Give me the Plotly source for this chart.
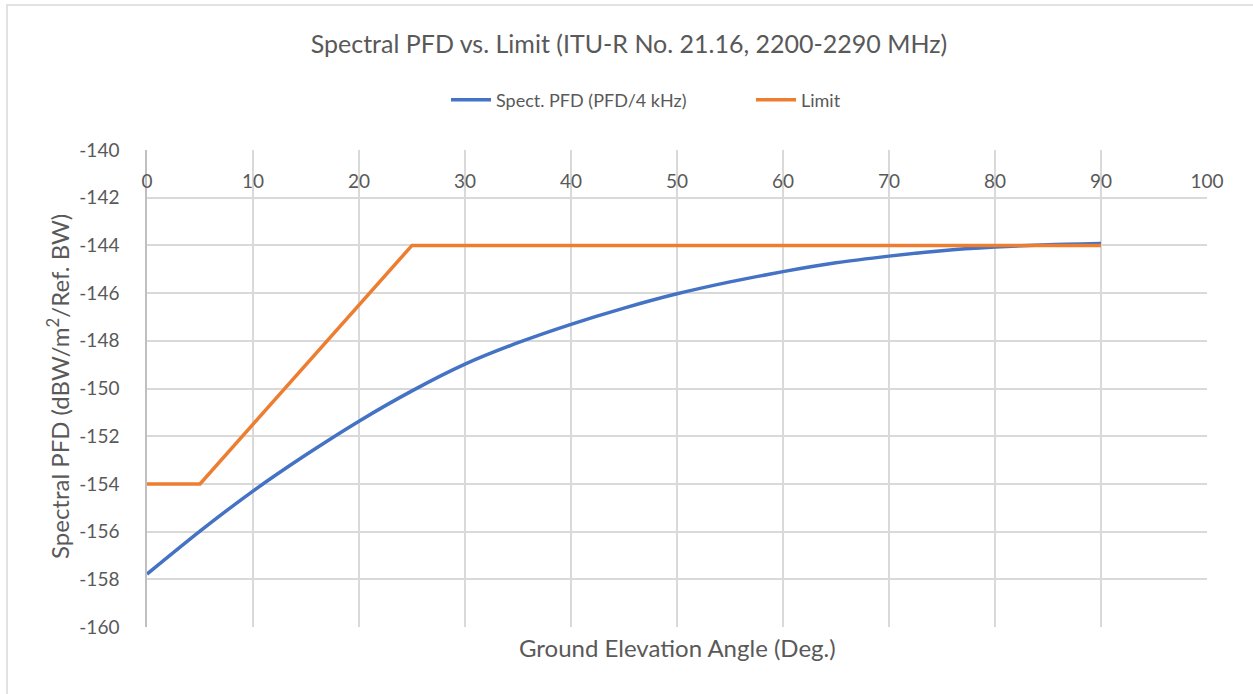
import plotly.graph_objects as go

# Data
angles = [0, 5, 10, 15, 20, 25, 30, 35, 40, 45, 50, 55, 60, 65, 70, 75, 80, 85, 90]
spect_pfd = [-157.78, -155.98, -154.3, -152.78, -151.37, -150.1, -148.98, -148.08,
             -147.31, -146.63, -146.03, -145.53, -145.1, -144.73, -144.45, -144.22,
             -144.07, -143.97, -143.92]
limit_angles = [0, 5, 25, 90]
limit_vals = [-154, -154, -144, -144]

x_ticks = list(range(0, 101, 10))
y_ticks = list(range(-160, -139, 2))
y_ticktext = [str(v) for v in y_ticks]

FONT = "Lato, 'Open Sans', sans-serif"
GRAY = "#595959"
GRID = "#d9d9d9"

fig = go.Figure()
fig.add_trace(go.Scatter(x=angles, y=spect_pfd, mode="lines",
                         name="Spect. PFD (PFD/4 kHz)",
                         line=dict(color="#4472C4", width=3.5, shape="spline", smoothing=0.6)))
fig.add_trace(go.Scatter(x=limit_angles, y=limit_vals, mode="lines",
                         name="Limit", line=dict(color="#ED7D31", width=3.5)))

fig.update_layout(
    width=1253, height=694,
    margin=dict(l=147, r=46, t=150, b=67),
    paper_bgcolor="white", plot_bgcolor="white",
    font=dict(family=FONT, color=GRAY, size=18),
    title=dict(text="Spectral PFD vs. Limit (ITU-R No. 21.16, 2200-2290 MHz)",
               x=0.502, xanchor="center", y=1 - 44 / 694, yanchor="middle",
               font=dict(size=25, color=GRAY, family=FONT)),
    legend=dict(orientation="h", x=(446 - 147) / 1060, xanchor="left", y=(627 - 100) / 477,
                yanchor="middle", font=dict(size=18, color=GRAY, family=FONT),
                bgcolor="rgba(0,0,0,0)", entrywidth=250, itemwidth=40),
    showlegend=True,
)

fig.update_xaxes(range=[0, 100], tickvals=x_ticks, side="top",
                 ticklabelposition="inside", ticklabeloverflow="allow",
                 ticklabelstandoff=22,
                 showgrid=True, gridcolor=GRID, gridwidth=1.5,
                 showline=False, zeroline=False, ticks="",
                 tickfont=dict(size=19, color=GRAY, family=FONT))
fig.update_yaxes(range=[-160, -140], tickvals=y_ticks, ticktext=y_ticktext,
                 showgrid=True, gridcolor=GRID, gridwidth=1.5,
                 showline=True, linecolor="#bfbfbf", linewidth=1.5,
                 zeroline=False, ticks="", ticklabelstandoff=22,
                 tickfont=dict(size=19, color=GRAY, family=FONT))

# Axis titles
fig.add_annotation(text="Ground Elevation Angle (Deg.)", xref="paper", yref="paper",
                   x=0.5, y=(627 - 647) / 477, xanchor="center", yanchor="middle",
                   showarrow=False, font=dict(size=24, color=GRAY, family=FONT))
fig.add_annotation(text="Spectral PFD (dBW/m<sup>2</sup>/Ref. BW)", xref="paper", yref="paper",
                   x=(58 - 147) / 1060, y=(627 - 387) / 477, xanchor="center", yanchor="middle",
                   textangle=-90, showarrow=False,
                   font=dict(size=24, color=GRAY, family=FONT))

# Chart area border
fig.add_shape(type="rect", xref="paper", yref="paper",
              x0=(7 - 147) / 1060, x1=(1262 - 147) / 1060,
              y0=(627 - 705) / 477, y1=(627 - 5) / 477,
              line=dict(color=GRID, width=1.5), fillcolor="rgba(0,0,0,0)", layer="below")

fig.write_html("out.html", config={"displayModeBar": False},
               post_script="document.body.style.margin='0';")
